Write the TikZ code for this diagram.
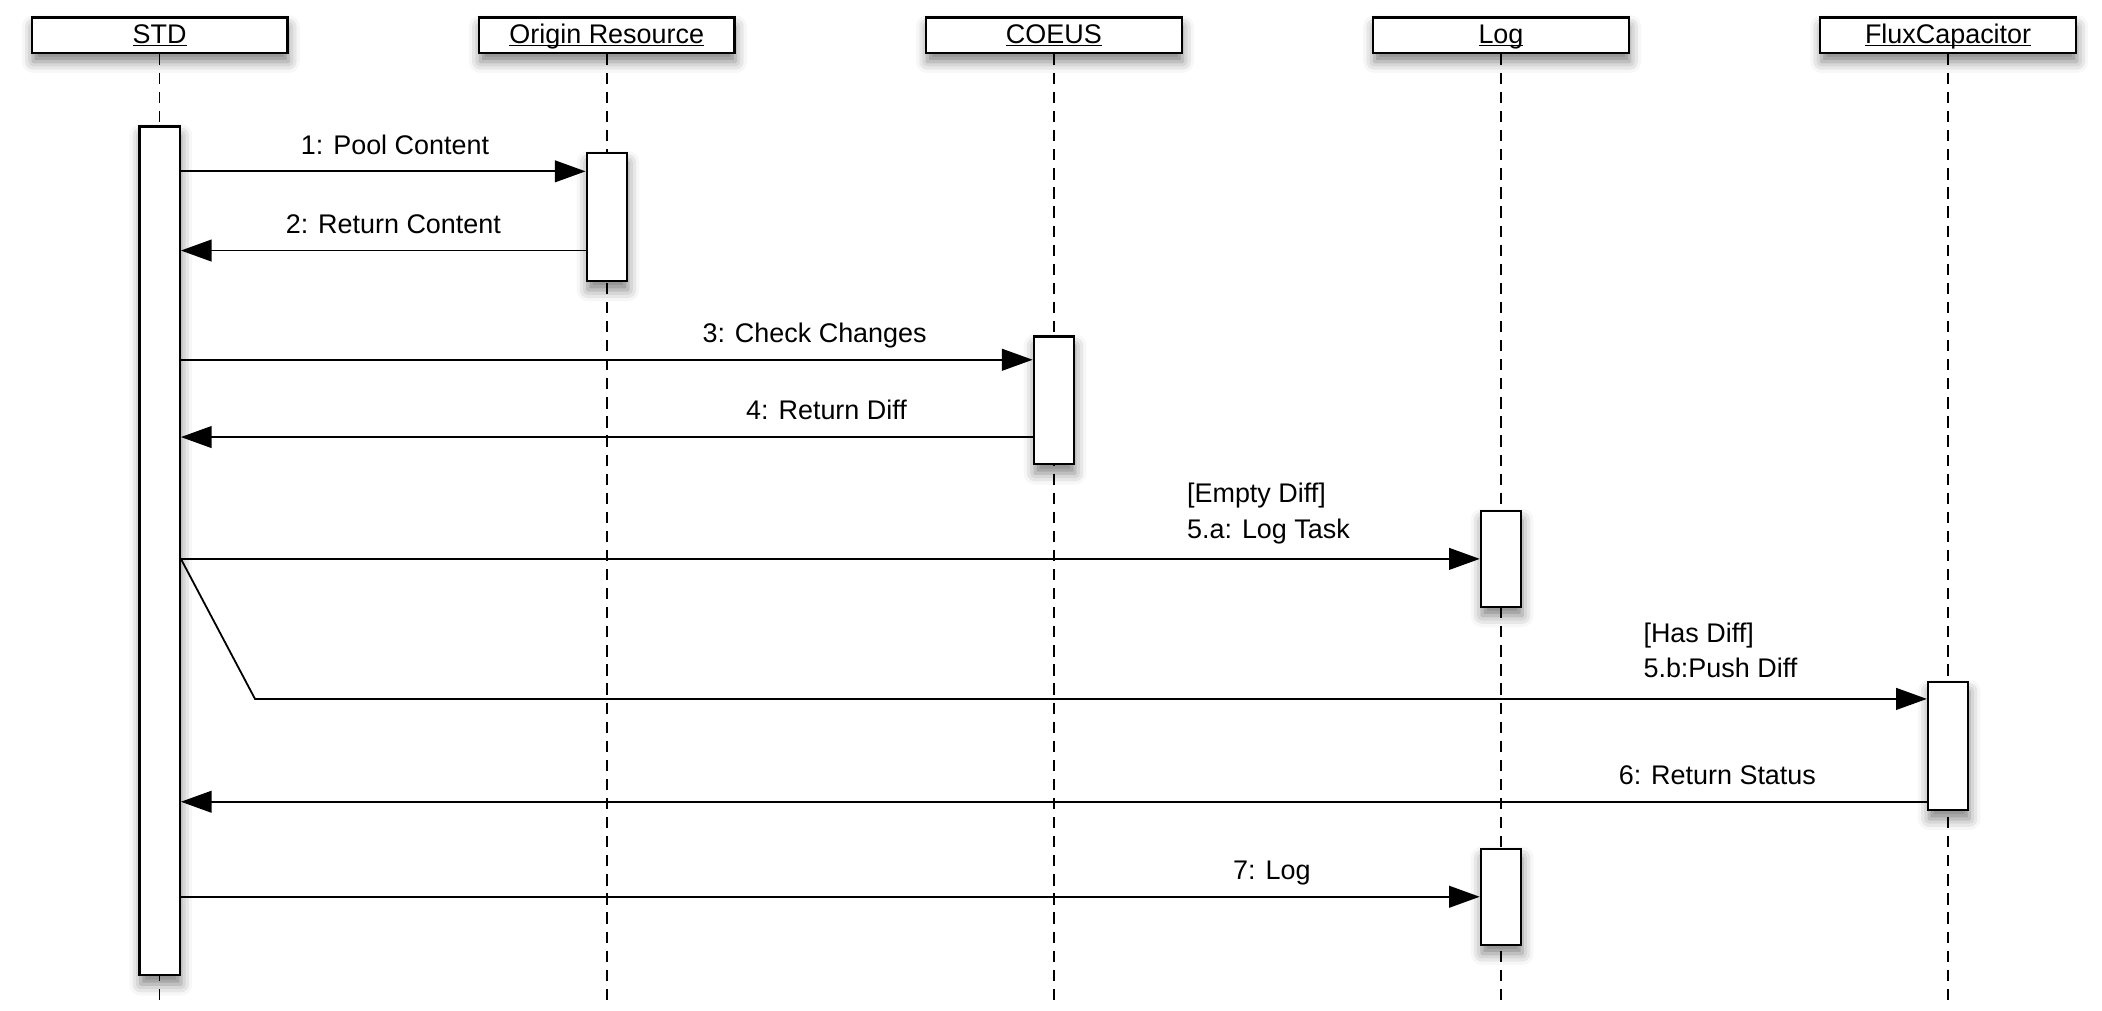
\documentclass[tikz,border=0pt]{standalone}
\usepackage{fontspec}
\setmainfont{Liberation Sans}
\usetikzlibrary{positioning, arrows.meta, shadows.blur}
\newcommand\uname[1]{\setbox0\hbox{#1}\rlap{\rule[-0.12em]{\wd0}{0.06em}}\box0}

\begin{document}
\begin{tikzpicture}[every node/.style={font=\fontsize{12}{16}\selectfont},
  shade/.style={blur shadow={shadow xshift=0.5pt, shadow yshift=-4pt, shadow blur radius=5pt, shadow opacity=50}},
  head/.style={draw, line width=1pt, fill=white, minimum width=4cm, minimum height=0.55cm, inner sep=0pt,
    text height=0.72em, text depth=0pt, shade},
  bar/.style={draw, line width=1pt, fill=white, minimum width=0.63cm, inner sep=0pt, shade},
  life/.style={line width=0.7pt, dash pattern=on 5pt off 3.5pt},
  msg/.style={line width=0.8pt, -{Triangle[length=0.48cm, width=0.34cm]}},
  lbl/.style={anchor=base, yshift=0.27cm, inner sep=0pt},
  cond/.style={anchor=south west, align=left, inner sep=0pt}]
\useasboundingbox (0,0) rectangle (32.91,-15.815);

% lifeline heads
\node (std) [head] at (2.5,-0.55) {\uname{STD}};
\node (origin) [head] at (9.5,-0.55) {\uname{Origin Resource}};
\node (coeus) [head] at (16.5,-0.55) {\uname{COEUS}};
\node (log) [head] at (23.5,-0.55) {\uname{Log}};
\node (flux) [head] at (30.5,-0.55) {\uname{FluxCapacitor}};

\draw[life] (std.south) -- ++(0,-14.82);
\draw[life] (origin.south) -- ++(0,-14.82);
\draw[life] (coeus.south) -- ++(0,-14.82);
\draw[life] (log.south) -- ++(0,-14.82);
\draw[life] (flux.south) -- ++(0,-14.82);

% activations
\node (stdA) [bar, below=1.12cm of std, minimum height=13.29cm] {};
\node (originA) [bar, below=1.54cm of origin, minimum height=2cm] {};
\node (coeusA) [bar, below=4.41cm of coeus, minimum height=2cm] {};
\node (logA) [bar, below=7.14cm of log, minimum height=1.5cm] {};
\node (fluxA) [bar, below=9.82cm of flux, minimum height=2cm] {};
\node (logB) [bar, below=12.43cm of log, minimum height=1.5cm] {};

\coordinate (p1) at ([yshift=-0.30cm]originA.north west);
\coordinate (p2) at ([yshift=-1.54cm]originA.north west);
\coordinate (p3) at ([yshift=-0.38cm]coeusA.north west);
\coordinate (p4) at ([yshift=-1.59cm]coeusA.north west);
\coordinate (p5) at ([yshift=-0.28cm]fluxA.north west);
\coordinate (p6) at ([yshift=-1.89cm]fluxA.north west);
\coordinate (kink) at ([xshift=1.16cm]stdA.east |- p5);

% messages
\draw[msg] (stdA.east |- p1) -- (p1) node[lbl, pos=0.529] {1: Pool Content};
\draw[msg] (p2) -- (stdA.east |- p2) node[lbl, pos=0.475] {2: Return Content};
\draw[msg] (stdA.east |- p3) -- (p3) node[lbl, pos=0.744] {3: Check Changes};
\draw[msg] (p4) -- (stdA.east |- p4) node[lbl, pos=0.242] {4: Return Diff};
\draw[msg] (stdA.east |- logA.west) -- (logA.west)
  node[cond, pos=0.774, yshift=0.22cm] {[Empty Diff]\\5.a: Log Task};
\draw[msg] (stdA.east |- logA.west) -- (kink) -- (p5)
  node[cond, pos=0.83, yshift=0.31cm] {[Has Diff]\\5.b:Push Diff};
\draw[msg] (p6) -- (stdA.east |- p6) node[lbl, pos=0.12] {6: Return Status};
\draw[msg] (stdA.east |- logB.west) -- (logB.west) node[lbl, pos=0.84] {7: Log};
\end{tikzpicture}
\end{document}
